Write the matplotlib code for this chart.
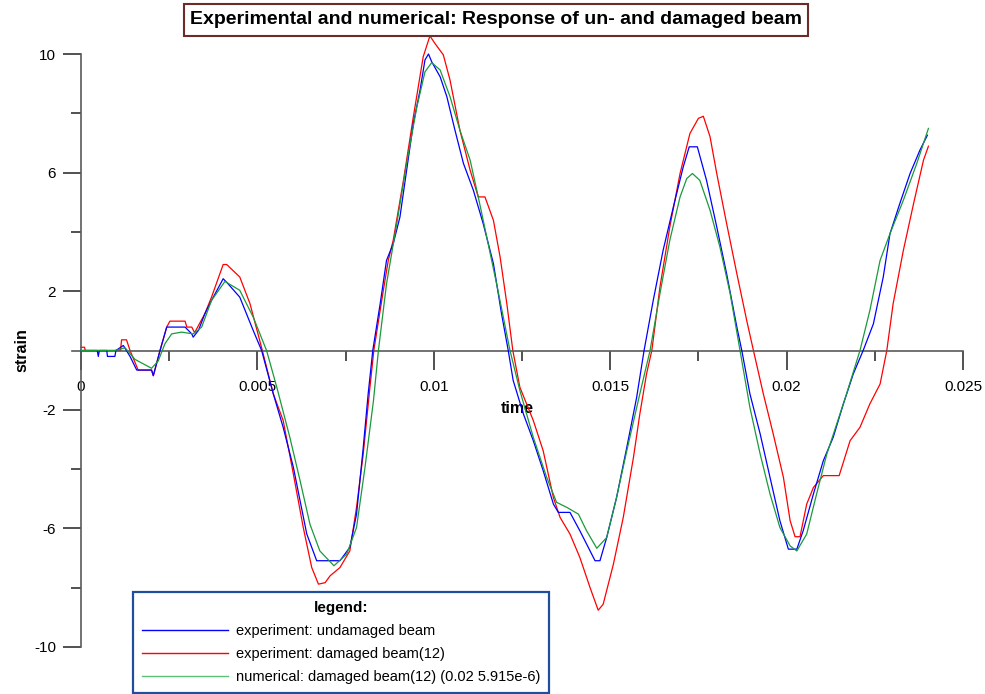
import numpy as np
import matplotlib
matplotlib.use("Agg")
import matplotlib.pyplot as plt
from matplotlib.ticker import FixedLocator
from matplotlib.patches import Rectangle

plt.rcParams['font.family'] = ['Liberation Sans', 'DejaVu Sans']
plt.rcParams['axes.unicode_minus'] = False

# experiment, undamaged beam (time [s], strain)
blue_t = [0, 0.00046, 0.00049, 0.00052, 0.00073, 0.00075, 0.00096, 0.00099, 0.0012, 0.00139,
          0.00158, 0.002, 0.00205, 0.00224, 0.00243, 0.00295, 0.00314, 0.00318, 0.00333, 0.00351,
          0.0037, 0.00403, 0.00413, 0.0045, 0.00488, 0.00512, 0.00545, 0.00573, 0.00602, 0.00621,
          0.0064, 0.00668, 0.00734, 0.00762, 0.00781, 0.008, 0.00814, 0.00827, 0.00848, 0.00866,
          0.00885, 0.00904, 0.00923, 0.00942, 0.00961, 0.00975, 0.00985, 0.00994, 0.01018, 0.01037,
          0.0106, 0.01084, 0.01112, 0.0114, 0.01169, 0.01192, 0.01211, 0.01225, 0.01254, 0.01282,
          0.0131, 0.01339, 0.01353, 0.01386, 0.01414, 0.01443, 0.01457, 0.01471, 0.0149, 0.01518,
          0.01547, 0.01575, 0.01596, 0.01622, 0.0165, 0.01679, 0.01707, 0.01724, 0.01747, 0.01773,
          0.01802, 0.0183, 0.01859, 0.01873, 0.01896, 0.01925, 0.01953, 0.01981, 0.02005, 0.02029,
          0.02047, 0.02076, 0.02104, 0.02132, 0.02161, 0.02189, 0.02217, 0.02246, 0.02274, 0.02293,
          0.02321, 0.0235, 0.02378, 0.02399]
blue_v = [0, 0, -0.2, 0, 0, -0.2, -0.2, 0, 0.17, -0.2,
          -0.66, -0.66, -0.85, 0, 0.79, 0.79, 0.56, 0.45, 0.68, 1.24,
          1.69, 2.42, 2.3, 1.8, 0.68, 0, -1.46, -2.59, -3.94, -5.07,
          -6.19, -7.09, -7.09, -6.64, -5.52, -3.27, -1.46, 0, 1.58, 3.04,
          3.6, 4.5, 6.08, 7.66, 8.78, 9.8, 10.0, 9.74, 9.23, 8.56,
          7.43, 6.31, 5.41, 4.28, 2.93, 1.24, 0, -1.01, -2.14, -3.04,
          -4.05, -5.18, -5.46, -5.46, -6.08, -6.76, -7.09, -7.09, -6.31, -4.96,
          -3.27, -1.58, 0, 1.69, 3.38, 4.84, 6.19, 6.87, 6.87, 5.74,
          4.17, 2.59, 0.79, 0, -1.46, -2.81, -4.28, -5.74, -6.7, -6.7,
          -6.08, -4.84, -3.72, -2.93, -1.8, -0.79, 0, 0.9, 2.48, 3.94,
          4.96, 5.97, 6.76, 7.26]

# experiment, damaged beam
red_t = [0, 0.0001, 0.00012, 0.00112, 0.00115, 0.00129, 0.00139, 0.00153, 0.00162, 0.002,
         0.00205, 0.00224, 0.00243, 0.00252, 0.00295, 0.003, 0.00314, 0.00322, 0.00351, 0.0037,
         0.00403, 0.00413, 0.0045, 0.00479, 0.00514, 0.00545, 0.00573, 0.00602, 0.0063, 0.00654,
         0.00673, 0.00692, 0.00706, 0.00734, 0.00762, 0.00781, 0.008, 0.00819, 0.0083, 0.00857,
         0.00871, 0.00885, 0.00914, 0.00942, 0.0097, 0.00989, 0.01003, 0.01027, 0.01046, 0.01074,
         0.01103, 0.01126, 0.01145, 0.01169, 0.01188, 0.01207, 0.01224, 0.01244, 0.01282, 0.0131,
         0.01339, 0.01358, 0.01386, 0.01414, 0.01443, 0.01466, 0.0148, 0.01509, 0.01537, 0.01566,
         0.01584, 0.01603, 0.01618, 0.01641, 0.01669, 0.01698, 0.01726, 0.0175, 0.01764, 0.01783,
         0.01802, 0.0183, 0.01859, 0.01887, 0.01906, 0.01934, 0.01962, 0.01991, 0.0201, 0.02024,
         0.02038, 0.02057, 0.02076, 0.02104, 0.02149, 0.0218, 0.02208, 0.02236, 0.02265, 0.02284,
         0.02302, 0.02331, 0.0236, 0.02388, 0.02402]
red_v = [0.11, 0.11, 0, 0, 0.36, 0.36, 0, -0.4, -0.66, -0.66,
         -0.85, 0, 0.79, 0.99, 0.99, 0.79, 0.79, 0.6, 1.24, 1.8,
         2.9, 2.9, 2.48, 1.58, 0, -1.46, -2.36, -4.17, -5.97, -7.32,
         -7.88, -7.83, -7.6, -7.32, -6.76, -5.29, -3.49, -1.24, 0, 2.03,
         3.04, 3.72, 5.74, 7.88, 9.91, 10.61, 10.36, 9.97, 9.12, 7.43,
         6.08, 5.18, 5.18, 4.39, 3.15, 1.58, 0, -1.24, -2.36, -3.38,
         -4.96, -5.63, -6.19, -6.98, -8.0, -8.76, -8.56, -7.21, -5.63, -3.6,
         -2.14, -0.79, 0, 2.14, 4.17, 5.97, 7.32, 7.83, 7.9, 7.21,
         5.97, 4.28, 2.59, 1.01, 0, -1.46, -2.81, -4.28, -5.74, -6.28,
         -6.28, -5.18, -4.62, -4.22, -4.22, -3.04, -2.59, -1.8, -1.13, 0,
         1.58, 3.38, 4.96, 6.42, 6.89]

# numerical, damaged beam
green_t = [0, 0.00096, 0.00125, 0.00153, 0.002, 0.00219, 0.00238, 0.00257, 0.00285, 0.00318,
           0.00342, 0.0037, 0.00408, 0.0045, 0.00488, 0.00526, 0.00555, 0.00592, 0.00621, 0.00649,
           0.00677, 0.00717, 0.00753, 0.00781, 0.00805, 0.00829, 0.00843, 0.00866, 0.00895, 0.00923,
           0.00952, 0.00975, 0.00994, 0.01018, 0.01046, 0.01074, 0.01103, 0.01126, 0.0115, 0.01178,
           0.01216, 0.01244, 0.01282, 0.0132, 0.01348, 0.01377, 0.0141, 0.01433, 0.01462, 0.0149,
           0.01518, 0.01547, 0.01584, 0.01613, 0.01641, 0.01669, 0.01698, 0.01717, 0.01733, 0.01754,
           0.01783, 0.01811, 0.0184, 0.01868, 0.01896, 0.01925, 0.01953, 0.01981, 0.0201, 0.02029,
           0.02057, 0.02085, 0.02114, 0.02142, 0.0217, 0.02208, 0.02236, 0.02265, 0.02293, 0.02331,
           0.02369, 0.02402]
green_v = [0, 0, 0.09, -0.3, -0.6, -0.35, 0.23, 0.56, 0.62, 0.56,
           0.79, 1.69, 2.33, 2.03, 1.13, 0, -1.24, -2.93, -4.39, -5.86,
           -6.76, -7.26, -6.87, -5.97, -3.94, -1.69, 0, 2.25, 4.28, 6.31,
           8.22, 9.4, 9.71, 9.46, 8.56, 7.43, 6.42, 5.18, 3.83, 2.25,
           0, -1.35, -2.93, -4.28, -5.12, -5.29, -5.52, -6.08, -6.67, -6.31,
           -4.96, -3.38, -1.46, 0, 1.92, 3.72, 5.18, 5.8, 5.97, 5.74,
           4.73, 3.49, 1.92, 0, -1.92, -3.49, -4.84, -5.97, -6.59, -6.76,
           -6.19, -4.84, -3.49, -2.48, -1.46, 0, 1.35, 3.04, 3.94, 5.07,
           6.31, 7.49]

series_labels = ["experiment: undamaged beam",
                 "experiment: damaged beam(12)",
                 "numerical: damaged beam(12) (0.02 5.915e-6)"]

x_major = [0, 0.005, 0.01, 0.015, 0.02, 0.025]
x_major_labels = ["0", "0.005", "0.01", "0.015", "0.02", "0.025"]
x_minor = [0.0025, 0.0075, 0.0125, 0.0175, 0.0225]
y_major = [10, 6, 2, -2, -6, -10]
y_minor = [8, 4, -4, -8]

fig = plt.figure(figsize=(9.85, 6.94), dpi=100)
ax = fig.add_axes([72/985, 47/694, 891/985, 593/694])

ax.plot(blue_t, blue_v, color='#0000ff', lw=0.9, clip_on=False, label=series_labels[0], zorder=3)
ax.plot(red_t, red_v, color='#ff0000', lw=0.9, clip_on=False, label=series_labels[1], zorder=2)
ax.plot(green_t, green_v, color='#1a9a3a', lw=0.9, clip_on=False, label=series_labels[2], zorder=4)

ax.set_xlim(-0.000255, 0.025)
ax.set_ylim(-10, 10)

axcol = '#5a5a5a'
for s in ['top', 'right']:
    ax.spines[s].set_visible(False)
ax.spines['left'].set_position(('data', 0))
ax.spines['bottom'].set_position(('data', 0))
for s in ['left', 'bottom']:
    ax.spines[s].set_color(axcol)
    ax.spines[s].set_linewidth(1.2)

ax.xaxis.set_major_locator(FixedLocator(x_major))
ax.set_xticklabels(x_major_labels)
ax.xaxis.set_minor_locator(FixedLocator(x_minor))
ax.yaxis.set_major_locator(FixedLocator(y_major))
ax.yaxis.set_minor_locator(FixedLocator(y_minor))

ax.tick_params(axis='x', which='major', direction='out', length=14, width=1.1, color='#222222',
               pad=7, labelsize=11)
ax.tick_params(axis='x', which='minor', direction='out', length=7, width=1.1, color='#222222')
ax.tick_params(axis='y', which='major', direction='out', length=13, width=1.1, color='#222222',
               pad=5, labelsize=11)
ax.tick_params(axis='y', which='minor', direction='out', length=7, width=1.1, color='#222222')

ax.set_xlabel("time", fontsize=11.5, fontweight='bold', labelpad=5)
ax.set_ylabel("strain", fontsize=11.5, fontweight='bold', labelpad=3)

# title in a framed box
fig.patches.append(Rectangle((184/985, 1 - 36/694), 624/985, 32/694, transform=fig.transFigure,
                             facecolor='white', edgecolor='#6b2b2b', linewidth=1.5, zorder=5))
fig.text(496/985, 1 - 20/694, "Experimental and numerical: Response of un- and damaged beam",
         ha='center', va='center', fontsize=14, fontweight='bold', zorder=6)

leg = ax.legend(loc='upper left', bbox_to_anchor=(133/985, 1 - 592/694),
                bbox_transform=fig.transFigure, title="legend:",
                title_fontproperties={'weight': 'bold', 'size': 11},
                fontsize=10.5, frameon=True, fancybox=False, framealpha=1,
                edgecolor='#1f4e9c', handlelength=5.9, handletextpad=0.55,
                labelspacing=0.62, borderpad=0.6, borderaxespad=0)
leg.get_frame().set_linewidth(1.6)
for ln in leg.get_lines():
    ln.set_linewidth(1.0)
leg.get_lines()[2].set_color('#5cbf7a')

fig.savefig("out.png", dpi=100)
